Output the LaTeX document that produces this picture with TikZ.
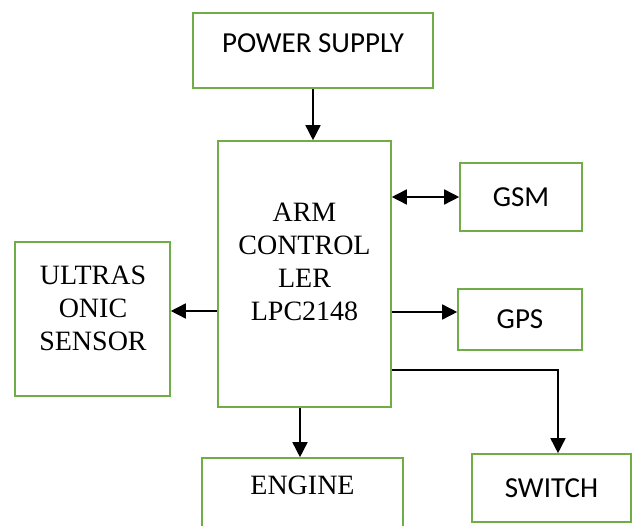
\documentclass[tikz,border=0pt]{standalone}
\usepackage{fontspec}
\setmainfont{Liberation Serif}
\newfontfamily\calibri{Carlito}
\usepackage{tikz}
\usetikzlibrary{positioning, arrows.meta}
\definecolor{boxgreen}{HTML}{70AD47}

\begin{document}
\begin{tikzpicture}[
  x=1pt, y=-1pt,
  block/.style={rectangle, draw=boxgreen, line width=1.6pt, inner sep=0pt},
  serif/.style={font=\fontsize{28}{33}\selectfont, align=center, inner sep=0pt},
  sans/.style={font=\calibri\fontsize{29}{33}\selectfont},
  link/.style={line width=1.6pt},
  >={Triangle[length=15pt, width=15pt]}
]
  % page frame
  \clip (0,0) rectangle (633,526);
  % blocks
  \node[block, minimum width=240pt, minimum height=75pt] (power) at (313,50.5) {};
  \node[sans, inner sep=0pt] (power label) at (313,43) {POWER SUPPLY};
  \node[block, minimum width=173pt, minimum height=266pt] (arm) at (304.5,274) {};
  \node[serif] (arm label) at (304.5,262) {ARM\\CONTROL\\LER\\LPC2148};
  \node[block, minimum width=155pt, minimum height=154pt] (ultra) at (92.5,319) {};
  \node[serif] (ultra label) at (93,308) {ULTRAS\\ONIC\\SENSOR};
  \node[block, sans, minimum width=122pt, minimum height=68pt] (gsm) at (521,197) {GSM};
  \node[block, sans, minimum width=124pt, minimum height=61pt] (gps) at (520,319.5) {GPS};
  \node[block, sans, minimum width=159pt, minimum height=68pt] (switch) at (551.5,488) {SWITCH};
  \node[block, minimum width=201pt, minimum height=82pt] (engine) at (302.5,499) {};
  \node[serif] (engine label) at (302.5,485) {ENGINE};
  % connections
  \draw[link, ->] (power.south) -- (power.south |- arm.north);
  \draw[link, <->] (gsm.west -| arm.east) -- (gsm.west);
  \draw[link, ->] (arm.west |- 0,311) -- (ultra.east |- 0,311);
  \draw[link, ->] (arm.east |- 0,312) -- (gps.west |- 0,312);
  \draw[link, ->] (arm.east |- 0,370) -| (switch.north -| 558,0);
  \draw[link, ->] (arm.south -| 300,0) -- (engine.north -| 300,0);
\end{tikzpicture}
\end{document}
